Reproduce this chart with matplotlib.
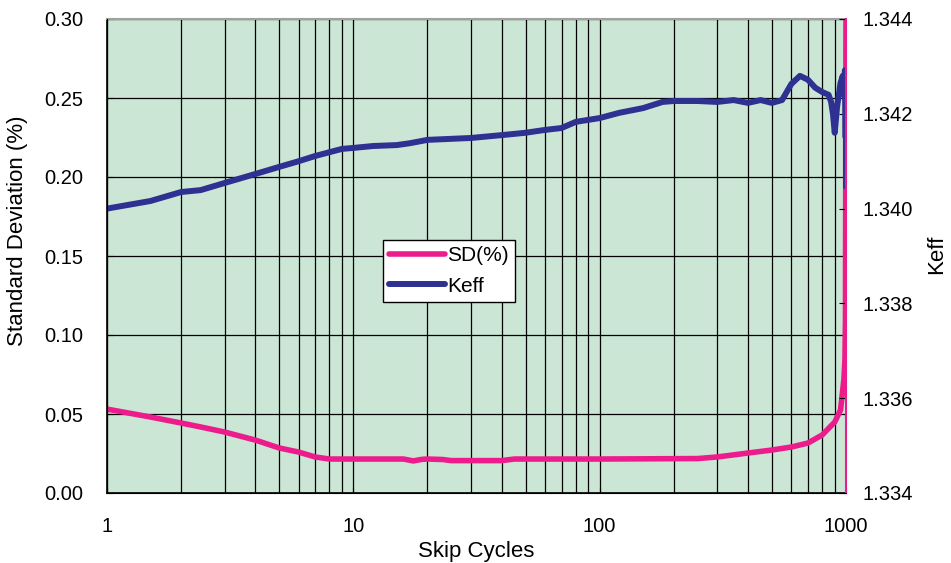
import numpy as np
import matplotlib
matplotlib.use("Agg")
import matplotlib.pyplot as plt
from matplotlib.ticker import FixedLocator, NullFormatter

plt.rcParams['font.family'] = ['Liberation Sans', 'DejaVu Sans']

# skip cycles vs standard deviation (%)
sd_x = [1, 1.5, 2, 2.4, 3, 4, 5, 6, 7, 8, 10, 16, 17.5, 19, 20, 23, 25, 40, 45,
        100, 250, 300, 400, 500, 600, 700, 800, 900, 950, 980, 990, 995, 1000]
sd_y = [0.0531, 0.0481, 0.0443, 0.0418, 0.0386, 0.0335, 0.0285, 0.0259, 0.0228,
        0.0215, 0.0215, 0.0215, 0.0203, 0.0213, 0.0215, 0.0212, 0.0205, 0.0205,
        0.0215, 0.0215, 0.0218, 0.0228, 0.0253, 0.0272, 0.0291, 0.0316, 0.0367,
        0.0449, 0.0525, 0.0715, 0.084, 0.11, 0.31]

# skip cycles vs keff
k_x = [1, 1.5, 2, 2.4, 3, 4, 5, 6, 7, 8, 9, 10, 12, 15, 17, 20, 30, 40, 50, 60,
       70, 80, 100, 120, 150, 180, 200, 250, 300, 350, 400, 450, 500, 550, 600,
       650, 700, 750, 800, 850, 870, 885, 900, 920, 950, 970, 980, 990, 995,
       997, 998, 999, 1000]
k_y = [1.34000, 1.34016, 1.34035, 1.34039, 1.34054, 1.34073, 1.34088, 1.34100,
       1.34111, 1.34119, 1.34126, 1.34128, 1.34132, 1.34134, 1.34138, 1.34145,
       1.34149, 1.34155, 1.34160, 1.34166, 1.34170, 1.34183, 1.34191, 1.34202,
       1.34212, 1.34225, 1.34227, 1.34227, 1.34225, 1.34229, 1.34223, 1.34229,
       1.34223, 1.34229, 1.34263, 1.34280, 1.34272, 1.34255, 1.34246, 1.34240,
       1.34225, 1.34200, 1.34160, 1.34215, 1.34265, 1.34280, 1.34240, 1.34292,
       1.34270, 1.34150, 1.34285, 1.34200, 1.34046]

fig = plt.figure(figsize=(9.51, 5.63), dpi=100)
ax = fig.add_axes([107/951, 1-493/563, 739/951, 474/563])
ax.set_facecolor('#cbe6d5')
ax.set_xscale('log')
ax.set_xlim(1, 1000)
ax.set_ylim(0, 0.30)
ax.set_yticks(np.arange(0, 0.301, 0.05))
ax.set_yticklabels(['%.2f' % v for v in np.arange(0, 0.301, 0.05)])
ax.xaxis.set_major_locator(FixedLocator([1, 10, 100, 1000]))
ax.set_xticklabels(['1', '10', '100', '1000'])
ax.xaxis.set_minor_locator(FixedLocator([m * d for d in (1, 10, 100) for m in range(2, 10)]))
ax.xaxis.set_minor_formatter(NullFormatter())
ax.grid(True, which='both', axis='x', color='black', lw=0.9)
ax.grid(True, which='major', axis='y', color='black', lw=0.9)
ax.tick_params(axis='y', which='both', direction='in', labelsize=14.5, length=4, pad=17)
ax.tick_params(axis='x', which='both', direction='in', labelsize=14.5, length=4, pad=17)
ax.tick_params(axis='x', which='minor', length=0)
for s in ('left', 'bottom'):
    ax.spines[s].set_color('black')
    ax.spines[s].set_linewidth(1.2)
ax.spines['top'].set_color('#a0a0a0')
ax.spines['top'].set_linewidth(1.5)
ax.spines['right'].set_visible(False)

sd_line, = ax.plot(sd_x, sd_y, color='#ec1c8c', lw=4, solid_capstyle='round', label='SD(%)', clip_on=True)
ax.set_xlabel('Skip Cycles', fontsize=16, labelpad=4)
ax.set_ylabel('Standard Deviation (%)', fontsize=16)
ax.yaxis.set_label_coords(-0.107, 0.553)

ax2 = ax.twinx()
ax2.set_ylim(1.334, 1.344)
ax2.set_yticks(np.arange(1.334, 1.3441, 0.002))
ax2.set_yticklabels(['%.3f' % v for v in np.arange(1.334, 1.3441, 0.002)])
ax2.tick_params(axis='y', direction='in', labelsize=14.5, length=5, pad=12)
k_line, = ax2.plot(k_x, k_y, color='#2e3192', lw=4.3, solid_capstyle='round', label='Keff')
ax2.spines['right'].set_color('#ec1c8c')
ax2.spines['right'].set_linewidth(1.5)
ax2.spines['top'].set_visible(False)
ax2.set_ylabel('Keff', fontsize=16)
ax2.yaxis.set_label_coords(1.109, 0.504)

leg = ax2.legend(handles=[sd_line, k_line], loc='upper left', bbox_to_anchor=(0.373, 0.534),
                 fontsize=15, frameon=True, fancybox=False, handlelength=2.7,
                 handletextpad=0.1, borderpad=0.3, labelspacing=0.55, borderaxespad=0)
leg.get_frame().set_edgecolor('black')
leg.get_frame().set_linewidth(1.0)
leg.get_frame().set_facecolor('white')
leg.get_frame().set_alpha(1)

fig.savefig('out.png', dpi=100)
